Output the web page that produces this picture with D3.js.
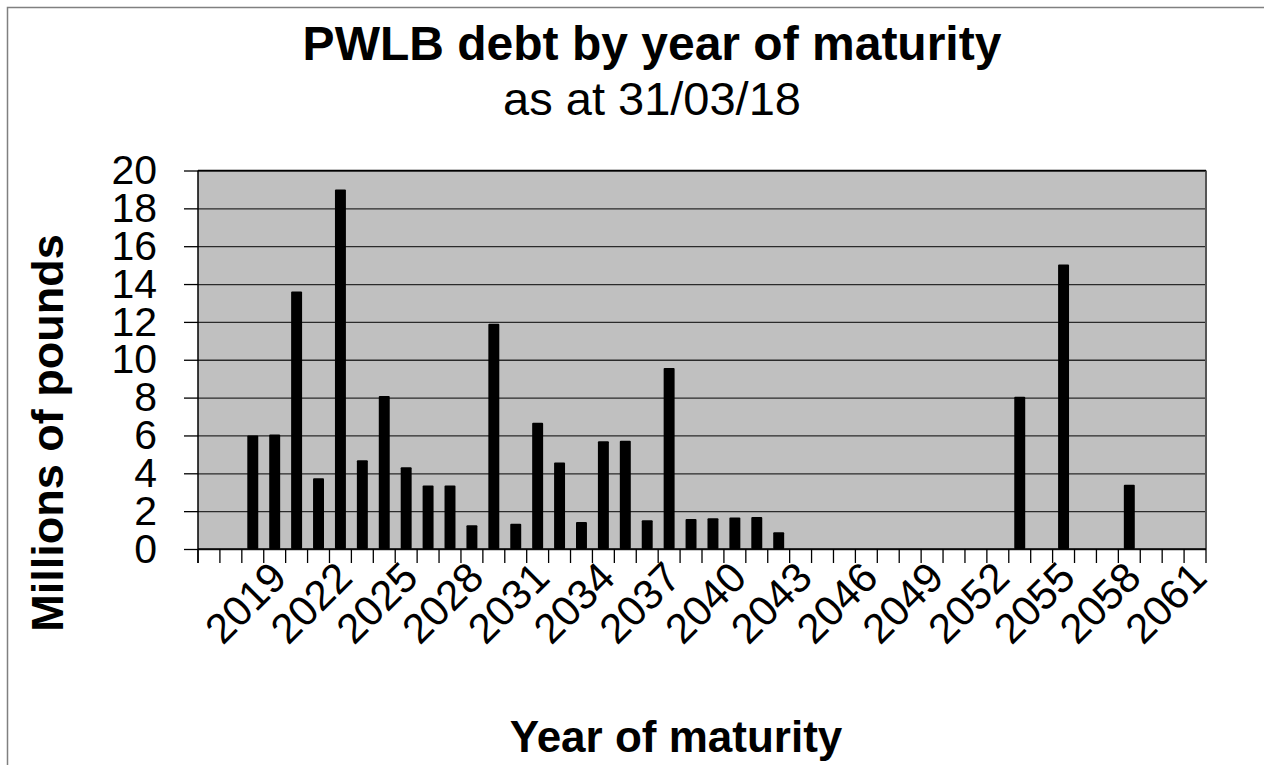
<!DOCTYPE html>
<html>
<head>
<meta charset="utf-8">
<script src="https://cdnjs.cloudflare.com/ajax/libs/d3/7.8.5/d3.min.js"></script>
<style>
  body { margin: 0; background: #fff; }
  svg { display: block; font-family: "Liberation Sans", Arial, sans-serif; }
</style>
</head>
<body>
<svg id="chart"></svg>
<script>
// categories: one per year, first one has no label
const years = [2016, 2017, 2018, 2019, 2020, 2021, 2022, 2023, 2024, 2025,
  2026, 2027, 2028, 2029, 2030, 2031, 2032, 2033, 2034, 2035,
  2036, 2037, 2038, 2039, 2040, 2041, 2042, 2043, 2044, 2045,
  2046, 2047, 2048, 2049, 2050, 2051, 2052, 2053, 2054, 2055,
  2056, 2057, 2058, 2059, 2060, 2061];

// millions of pounds maturing in each year
const debt = [0, 0, 6.0, 6.05, 13.6, 3.74, 19.0, 4.69, 8.08, 4.32,
  3.35, 3.35, 1.25, 11.9, 1.34, 6.67, 4.57, 1.43, 5.70, 5.72,
  1.52, 9.56, 1.59, 1.62, 1.66, 1.69, 0.88, 0, 0, 0,
  0, 0, 0, 0, 0, 0, 0, 8.04, 0, 15.03,
  0, 0, 3.39, 0, 0, 0];

const tickYears = [2019, 2022, 2025, 2028, 2031, 2034, 2037, 2040,
  2043, 2046, 2049, 2052, 2055, 2058, 2061];
const yTicks = [0, 2, 4, 6, 8, 10, 12, 14, 16, 18, 20];

const W = 1264, H = 765;
let plot = {left: 198, right: 1206, top: 170.5, bottom: 549};

let svg = d3.select("#chart").attr("width", W).attr("height", H);

// outer chart frame (runs off the right and bottom edge)
svg.append("rect")
  .attr("x", 7.5).attr("y", 7.5)
  .attr("width", W + 20).attr("height", H + 20)
  .attr("fill", "#fff")
  .attr("stroke", "#808080")
  .attr("stroke-width", 1.5);

let x = d3.scaleBand()
  .domain(years)
  .range([plot.left, plot.right]);

let y = d3.scaleLinear()
  .domain([0, 20])
  .range([plot.bottom, plot.top]);

// plot area
svg.append("rect")
  .attr("x", plot.left).attr("y", plot.top)
  .attr("width", plot.right - plot.left)
  .attr("height", plot.bottom - plot.top)
  .attr("fill", "#c0c0c0");

// gridlines
svg.append("g")
  .attr("transform", `translate(${plot.left},0)`)
  .call(d3.axisLeft(y).tickValues(yTicks).tickSize(-(plot.right - plot.left)).tickFormat(""))
  .call(g => g.select(".domain").remove())
  .call(g => g.selectAll("line").attr("stroke", "#2a2a2a").attr("stroke-width", 1.3));

// right and top border of plot area
svg.append("line")
  .attr("x1", plot.right).attr("x2", plot.right)
  .attr("y1", plot.top).attr("y2", plot.bottom)
  .attr("stroke", "#555").attr("stroke-width", 2);
svg.append("line")
  .attr("x1", plot.left).attr("x2", plot.right)
  .attr("y1", plot.top).attr("y2", plot.top)
  .attr("stroke", "#000").attr("stroke-width", 1.5);

// bars
svg.append("g")
  .selectAll("rect")
  .data(years.map((yr, i) => ({year: yr, value: debt[i]})).filter(d => d.value > 0))
  .join("rect")
  .attr("x", d => x(d.year) + x.bandwidth() * 0.25)
  .attr("width", x.bandwidth() * 0.5)
  .attr("y", d => y(d.value))
  .attr("height", d => y(0) - y(d.value))
  .attr("rx", 1)
  .attr("fill", "#000");

// y axis
svg.append("g")
  .attr("transform", `translate(${plot.left},0)`)
  .call(d3.axisLeft(y).tickValues(yTicks).tickSize(14).tickPadding(27))
  .call(g => g.select(".domain").attr("d", `M0,${plot.top}V${plot.bottom + 14}`).attr("stroke", "#000").attr("stroke-width", 1.5))
  .call(g => g.selectAll("line").attr("stroke", "#000").attr("stroke-width", 1.3))
  .call(g => g.selectAll("text")
    .attr("font-size", 41)
    .attr("font-family", "Liberation Sans, Arial, sans-serif")
    .attr("fill", "#000"));

// x axis: baseline and ticks between categories
svg.append("line")
  .attr("x1", plot.left).attr("x2", plot.right)
  .attr("y1", plot.bottom).attr("y2", plot.bottom)
  .attr("stroke", "#000").attr("stroke-width", 1.5);

svg.append("g")
  .selectAll("line")
  .data(years.concat([null]))
  .join("line")
  .attr("x1", (d, i) => plot.left + i * x.step())
  .attr("x2", (d, i) => plot.left + i * x.step())
  .attr("y1", plot.bottom)
  .attr("y2", plot.bottom + 14)
  .attr("stroke", "#000")
  .attr("stroke-width", 1.3);

svg.append("g")
  .selectAll("text")
  .data(tickYears)
  .join("text")
  .attr("transform", d => `translate(${x(d) + x.bandwidth() / 2 + 14},${plot.bottom + 31}) rotate(-45)`)
  .attr("text-anchor", "end")
  .attr("font-size", 42)
  .attr("fill", "#000")
  .text(d => d);

// titles
svg.append("text")
  .attr("x", 652).attr("y", 60)
  .attr("text-anchor", "middle")
  .attr("font-size", 48)
  .attr("font-weight", "bold")
  .text("PWLB debt by year of maturity");

svg.append("text")
  .attr("x", 652).attr("y", 115)
  .attr("text-anchor", "middle")
  .attr("font-size", 47)
  .text("as at 31/03/18");

svg.append("text")
  .attr("transform", `translate(63,433) rotate(-90)`)
  .attr("text-anchor", "middle")
  .attr("font-size", 45)
  .attr("font-weight", "bold")
  .text("Millions of pounds");

svg.append("text")
  .attr("x", 676).attr("y", 752)
  .attr("text-anchor", "middle")
  .attr("font-size", 44)
  .attr("font-weight", "bold")
  .text("Year of maturity");
</script>
</body>
</html>
